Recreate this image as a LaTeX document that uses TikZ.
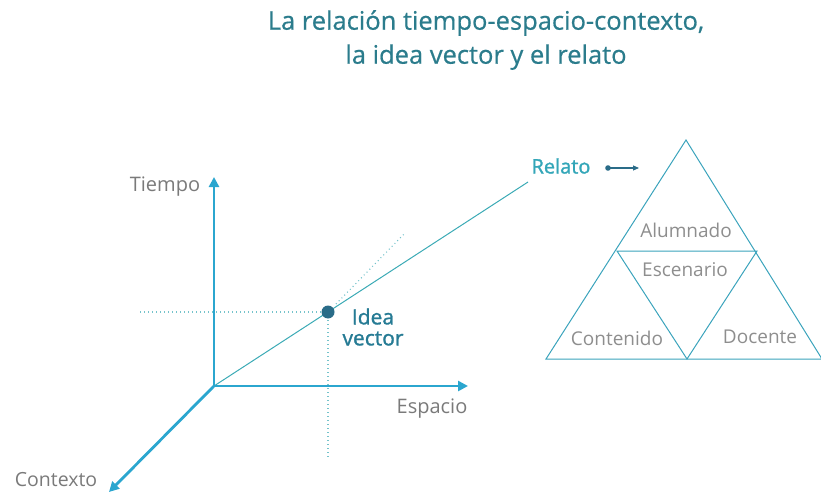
\documentclass[tikz,border=0pt]{standalone}
\usepackage{fontspec}
\setmainfont{Open Sans}
\newfontfamily\semib[FakeBold=1.3]{Open Sans}
\newfontfamily\medf[FakeBold=0.6]{Open Sans}
\usetikzlibrary{arrows.meta}
\definecolor{axis}{HTML}{2BA6CF}
\definecolor{diag}{HTML}{3AAAB5}
\definecolor{tri}{HTML}{3AA3BC}
\definecolor{titlec}{HTML}{2B7C8C}
\definecolor{dotc}{HTML}{2A6C88}
\definecolor{labc}{HTML}{7A7A7A}
\definecolor{relc}{HTML}{33A6B8}
\tikzset{
  axisline/.style={draw=axis, line width=2.8pt, -{Triangle[length=10pt,width=10pt]}},
  dotline/.style={draw=diag!70, line width=1.1pt, dash pattern=on 1pt off 3pt},
  trisline/.style={draw=tri, line width=1pt, line join=miter},
  axlabel/.style={text=labc, font=\fontsize{20}{22}\selectfont, inner sep=0pt},
  trilabel/.style={text=labc!85, font=\fontsize{19}{21}\selectfont, inner sep=0pt},
}
\begin{document}
\begin{tikzpicture}[x=1pt,y=-1pt]
\useasboundingbox (0,0) rectangle (821,492);
% title
\node[text=titlec, font=\medf\fontsize{25.5}{34}\selectfont, align=center, inner sep=0pt] (title) at (486,40)
  {La relación tiempo-espacio-contexto,\\la idea vector y el relato};
% coordinates
\coordinate (O) at (214,386);
\coordinate (T) at (214,177);
\coordinate (E) at (468,386);
\coordinate (C) at (109,492);
\coordinate (R) at (528,182);
\coordinate (H0) at (140,312);
\coordinate (V1) at (328,460);
\coordinate (D1) at (405,233);
% dotted guides
\draw[dotline] (H0) -- (328,312);
\draw[dotline] (328,312) -- (V1);
\draw[dotline] (336,304) -- (D1);
% diagonal
\draw[draw=diag, line width=1pt] (O) -- (R);
% axes
\draw[axisline] (O) -- (T);
\draw[axisline] (O) -- (E);
\draw[axisline] (O) -- (C);
% idea vector dot
\node[circle, fill=dotc, minimum size=13pt, inner sep=0pt] (dot) at (328,312) {};
\node[text=dotc!90!cyan, font=\semib\fontsize{21}{21}\selectfont, align=center, inner sep=0pt] (idea) at (373,327) {Idea\\vector};
% axis labels
\node[axlabel] (tiempo) at (165,187) {Tiempo};
\node[axlabel] (espacio) at (432,409) {Espacio};
\node[axlabel, font=\fontsize{19.5}{22}\selectfont] (contexto) at (56,480) {Contexto};
% relato
\node[text=relc, font=\semib\fontsize{20}{22}\selectfont, inner sep=0pt] (relato) at (561,166) {Relato};
\coordinate (ra) at (608,168);
\coordinate (rb) at (639,168);
\fill[dotc] (ra) circle (2.8pt);
\draw[dotc, line width=1.1pt, -{Triangle[length=6pt,width=5pt]}] (ra) -- (rb);
% triangle
\coordinate (A) at (686,140);
\coordinate (BL) at (546,359);
\coordinate (BR) at (822,359);
\coordinate (ML) at (617,251);
\coordinate (MR) at (757,251);
\coordinate (MB) at (687,359);
\draw[trisline] (A) -- (BR) -- (BL) -- cycle;
\draw[trisline] (ML) -- (MR) -- (MB) -- cycle;
\node[trilabel] (alumnado) at (686,230) {Alumnado};
\node[trilabel] (escenario) at (685,270) {Escenario};
\node[trilabel] (contenido) at (617,338) {Contenido};
\node[trilabel] (docente) at (760,337) {Docente};
\end{tikzpicture}
\end{document}
